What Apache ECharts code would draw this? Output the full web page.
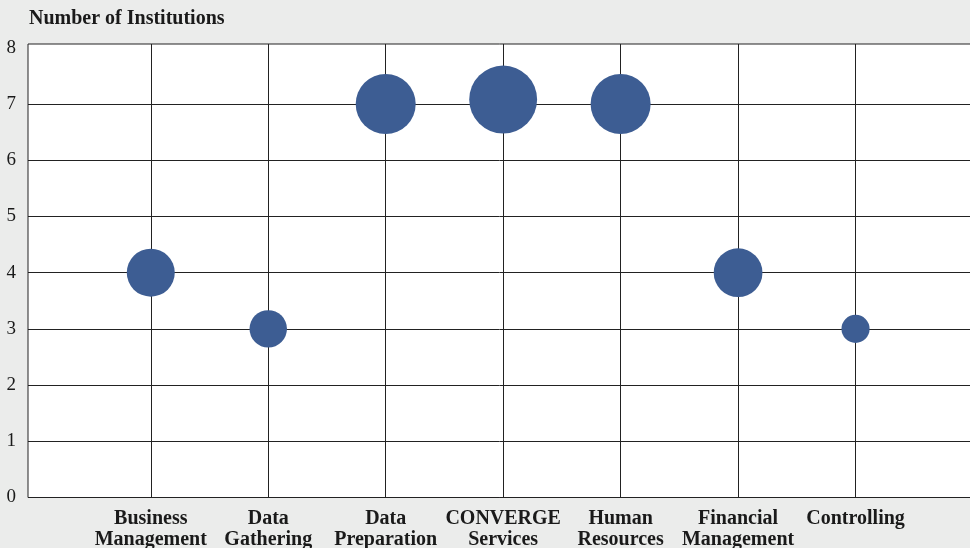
<!DOCTYPE html>
<html>
<head>
<meta charset="utf-8">
<script src="https://cdn.jsdelivr.net/npm/echarts@6/dist/echarts.min.js"></script>
<style>
html,body{margin:0;padding:0;background:#ebeceb;}
#chart{width:970px;height:548px;}
</style>
</head>
<body>
<div id="chart"></div>
<script>
const categories = ['Business\nManagement', 'Data\nGathering', 'Data\nPreparation', 'CONVERGE\nServices', 'Human\nResources', 'Financial\nManagement', 'Controlling'];
const institutions = [4, 3, 7, 7.08, 7, 4, 3];
const bubbleWeight = [64, 39, 100, 128, 100, 66, 22];
const yTickLabels = [0, 1, 2, 3, 4, 5, 6, 7, 8];
const yAxisTitle = 'Number of Institutions';

const catPositions = categories.map((c, i) => i + 1);
const seriesData = categories.map((c, i) => [i + 1, institutions[i], bubbleWeight[i]]);

const chart = echarts.init(document.getElementById('chart'), null, {renderer: 'canvas'});
const serif = 'Liberation Serif';
chart.setOption({
  backgroundColor: '#ebeceb',
  animation: false,
  title: {
    text: yAxisTitle,
    left: 24, top: 4,
    textStyle: {fontFamily: serif, fontWeight: 'bold', fontSize: 20, color: '#1a1a1a'}
  },
  grid: {
    left: 28, top: 44, right: -3, bottom: 50.5,
    outerBoundsMode: 'none',
    containLabel: false,
    show: true, backgroundColor: '#ffffff', borderColor: '#222', borderWidth: 1
  },
  xAxis: {
    type: 'value', min: -0.0453, max: 8,
    axisLine: {show: false},
    axisTick: {show: false, customValues: catPositions},
    splitLine: {show: true, lineStyle: {color: '#222', width: 1}},
    axisLabel: {
      customValues: catPositions,
      formatter: v => categories[Math.round(v) - 1] || '',
      fontFamily: serif, fontWeight: 'bold', fontSize: 20, color: '#1a1a1a',
      lineHeight: 21, margin: 11
    }
  },
  yAxis: {
    type: 'value', min: 0, max: 8.068,
    axisLine: {show: false},
    axisTick: {show: false, customValues: [0, 1, 2, 3, 4, 5, 6, 7]},
    splitLine: {show: true, lineStyle: {color: '#222', width: 1}},
    axisLabel: {
      customValues: yTickLabels,
      formatter: v => String(Math.round(v)),
      fontFamily: serif, fontSize: 19, color: '#1a1a1a', margin: 12
    }
  },
  series: [{
    type: 'scatter',
    data: seriesData,
    symbol: 'circle',
    symbolSize: d => 6 * Math.sqrt(d[2]),
    itemStyle: {color: '#3d5d93', opacity: 1},
    silent: true
  }]
});
</script>
</body>
</html>
